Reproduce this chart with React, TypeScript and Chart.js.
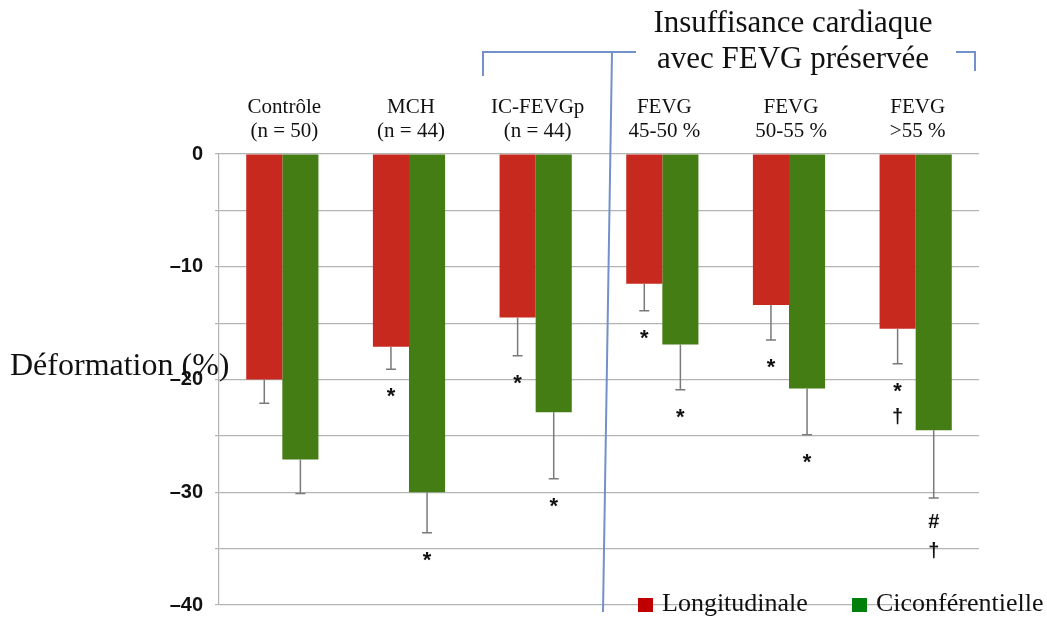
import React, { useEffect, useRef } from "react";
import { Chart, registerables } from "chart.js";

Chart.register(...registerables);

// Groups (two-line labels above each pair of bars)
const categories: string[][] = [
  ["Contrôle", "(n = 50)"],
  ["MCH", "(n = 44)"],
  ["IC-FEVGp", "(n = 44)"],
  ["FEVG", "45-50 %"],
  ["FEVG", "50-55 %"],
  ["FEVG", ">55 %"],
];

// Mean strain (%) and standard deviation per group
const longitudinal = [-20.0, -17.1, -14.5, -11.5, -13.4, -15.5];
const longitudinalSd = [2.1, 2.0, 3.4, 2.4, 3.1, 3.1];
const circumferential = [-27.1, -30.0, -22.9, -16.9, -20.8, -24.5];
const circumferentialSd = [3.0, 3.6, 5.9, 4.0, 4.1, 6.0];

// Significance marks printed under each error bar
const longitudinalMarks: string[][] = [[], ["*"], ["*"], ["*"], ["*"], ["*", "†"]];
const circumferentialMarks: string[][] = [[], ["*"], ["*"], ["*"], ["*"], ["#", "†"]];

const seriesNames = ["Longitudinale", "Ciconférentielle"];
const yTicks = [0, -10, -20, -30, -40];

const RED = "#c8291e";
const GREEN = "#437d14";
const LEGEND_RED = "#c00000";
const LEGEND_GREEN = "#00800a";
const SERIF = "'Liberation Serif', 'Times New Roman', serif";
const SANS = "'Liberation Sans', Arial, sans-serif";

const decorations = {
  id: "decorations",
  afterDatasetsDraw(chart: any) {
    const ctx = chart.ctx as CanvasRenderingContext2D;
    const y = chart.scales.y;
    const sds = [longitudinalSd, circumferentialSd];
    const marks = [longitudinalMarks, circumferentialMarks];
    ctx.save();
    chart.data.datasets.forEach((ds: any, di: number) => {
      const meta = chart.getDatasetMeta(di);
      meta.data.forEach((bar: any, i: number) => {
        const v = ds.data[i] as number;
        const yEnd = y.getPixelForValue(v);
        const yErr = y.getPixelForValue(v - sds[di][i]);
        ctx.strokeStyle = "#7a7a7a";
        ctx.lineWidth = 1.5;
        ctx.beginPath();
        ctx.moveTo(bar.x, yEnd);
        ctx.lineTo(bar.x, yErr);
        ctx.moveTo(bar.x - 5, yErr);
        ctx.lineTo(bar.x + 5, yErr);
        ctx.stroke();
        ctx.fillStyle = "#111";
        ctx.textAlign = "center";
        ctx.textBaseline = "middle";
        marks[di][i].forEach((m, k) => {
          const my = yErr + 25 + k * 29;
          if (m === "*") {
            ctx.font = `bold 22px ${SANS}`;
            ctx.fillText(m, bar.x, my + 3);
          } else {
            ctx.font = `bold 20px ${SANS}`;
            ctx.fillText(m, bar.x, my);
          }
        });
      });
    });
    ctx.restore();
  },
  afterDraw(chart: any) {
    const ctx = chart.ctx as CanvasRenderingContext2D;
    const x = chart.scales.x;
    ctx.save();
    ctx.fillStyle = "#111";
    ctx.textAlign = "center";
    ctx.textBaseline = "alphabetic";

    // Group labels
    ctx.font = `21px ${SERIF}`;
    categories.forEach((lines, i) => {
      const cx = x.getPixelForValue(i) + 2;
      lines.forEach((t, k) => ctx.fillText(t, cx, 113 + k * 24));
    });

    // Bracket around the preserved-EF groups
    ctx.strokeStyle = "#7391c9";
    ctx.lineWidth = 2;
    ctx.beginPath();
    ctx.moveTo(483, 76);
    ctx.lineTo(483, 52);
    ctx.lineTo(636, 52);
    ctx.moveTo(956, 52);
    ctx.lineTo(975, 52);
    ctx.lineTo(975, 71);
    ctx.moveTo(612, 52);
    ctx.lineTo(603, 612);
    ctx.stroke();

    // Heading of the bracket
    ctx.font = `31px ${SERIF}`;
    ctx.fillText("Insuffisance cardiaque", 793, 32);
    ctx.fillText("avec FEVG préservée", 793, 68);

    // Y axis title
    ctx.textAlign = "left";
    ctx.font = `32px ${SERIF}`;
    ctx.fillText("Déformation (%)", 10, 375);

    // Legend
    const items = [
      { x: 638, color: LEGEND_RED, label: seriesNames[0] },
      { x: 852, color: LEGEND_GREEN, label: seriesNames[1] },
    ];
    ctx.font = `26px ${SERIF}`;
    items.forEach((it) => {
      ctx.fillStyle = it.color;
      ctx.fillRect(it.x, 598, 15, 14);
      ctx.fillStyle = "#111";
      ctx.fillText(it.label, it.x + 24, 611);
    });
    ctx.restore();
  },
};

export default function App() {
  const canvasRef = useRef<HTMLCanvasElement>(null);

  useEffect(() => {
    const chart = new Chart(canvasRef.current as HTMLCanvasElement, {
      type: "bar",
      data: {
        labels: categories.map((c) => c.join(" ")),
        datasets: [
          {
            label: seriesNames[0],
            data: longitudinal,
            backgroundColor: RED,
            categoryPercentage: 0.57,
            barPercentage: 1,
          },
          {
            label: seriesNames[1],
            data: circumferential,
            backgroundColor: GREEN,
            categoryPercentage: 0.57,
            barPercentage: 1,
          },
        ],
      },
      options: {
        animation: false,
        responsive: true,
        maintainAspectRatio: false,
        layout: { padding: { top: 154, bottom: 14, right: 68, left: 0 } },
        plugins: { legend: { display: false }, tooltip: { enabled: false } },
        scales: {
          x: { display: false },
          y: {
            min: -40,
            max: 0,
            afterFit: (scale: any) => {
              scale.width = 219;
              scale.paddingTop = 0;
              scale.paddingBottom = 0;
            },
            afterBuildTicks: (scale: any) => {
              const vals: number[] = [];
              for (let v = 0; v >= -40; v -= 5) vals.push(v);
              scale.ticks = vals.map((value) => ({ value }));
            },
            ticks: {
              padding: 12,
              color: "#111",
              font: { family: SANS, size: 20, weight: "bold" },
              callback: (v: any) =>
                yTicks.includes(v) ? (v === 0 ? "0" : "–" + Math.abs(v)) : "",
            },
            grid: { color: "#b4b4b4", lineWidth: 1.2, tickLength: 4 },
            border: { color: "#b4b4b4", width: 1.2 },
          },
        },
      },
      plugins: [decorations],
    } as any);
    return () => chart.destroy();
  }, []);

  return (
    <div style={{ position: "fixed", left: 0, top: 0, width: 1047, height: 619, background: "#fff" }}>
      <canvas ref={canvasRef} />
    </div>
  );
}
